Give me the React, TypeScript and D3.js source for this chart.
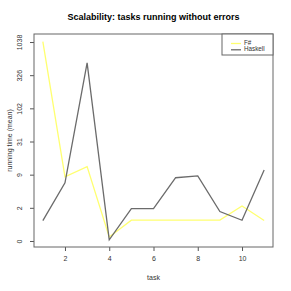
import React, { useEffect, useRef } from "react";
import * as d3 from "d3";

const tasks = [1, 2, 3, 4, 5, 6, 7, 8, 9, 10, 11];
const fsharp = [1050, 8.4, 12.4, 0.15, 1.07, 1.07, 1.07, 1.07, 1.07, 2.4, 1.05];
const haskell = [1.03, 6.6, 500, 0.04, 2.1, 2.1, 8.1, 8.7, 1.8, 1.06, 10.9];
const yTickLabels = [0, 2, 9, 31, 102, 326, 1038];
const xTicks = [2, 4, 6, 8, 10];

const width = 291;
const height = 291;
const margin = { top: 34, right: 18, bottom: 44, left: 34 };

export default function App() {
  const ref = useRef<SVGSVGElement>(null);

  useEffect(() => {
    const svg = d3.select(ref.current);
    svg.selectAll("*").remove();

    const tMax = Math.log1p(1038);
    const x = d3
      .scaleLinear()
      .domain([0.6, 11.4])
      .range([margin.left, width - margin.right]);
    const y = d3
      .scaleLinear()
      .domain([-0.21, tMax + 0.28])
      .range([height - margin.bottom, margin.top]);

    const font = "Liberation Sans, Arial, sans-serif";

    // title
    svg
      .append("text")
      .attr("x", (margin.left + width - margin.right) / 2)
      .attr("y", 20)
      .attr("text-anchor", "middle")
      .attr("font-family", font)
      .attr("font-weight", "bold")
      .attr("font-size", 9)
      .text("Scalability: tasks running without errors");

    // x axis
    const xAxis = svg
      .append("g")
      .attr("transform", `translate(0,${height - margin.bottom})`)
      .call(d3.axisBottom(x).tickValues(xTicks).tickSize(4).tickPadding(5));
    xAxis.select(".domain").remove();
    xAxis.selectAll("line").attr("stroke", "#555");
    xAxis.selectAll("text").attr("font-family", font).attr("font-size", 7).attr("fill", "#333");

    // y axis (evenly spaced in log1p space)
    const yAxis = svg
      .append("g")
      .attr("transform", `translate(${margin.left},0)`)
      .call(
        d3
          .axisLeft(y)
          .tickValues(yTickLabels.map((_, i) => (i * tMax) / (yTickLabels.length - 1)))
          .tickFormat((_, i) => String(yTickLabels[i]))
          .tickSize(4)
          .tickPadding(6)
      );
    yAxis.select(".domain").remove();
    yAxis.selectAll("line").attr("stroke", "#555");
    yAxis
      .selectAll("text")
      .attr("font-family", font)
      .attr("font-size", 7)
      .attr("fill", "#333")
      .attr("text-anchor", "middle")
      .attr("dy", 0)
      .attr("transform", function () {
        const xx = +d3.select(this).attr("x");
        return `translate(${xx - 2},0) rotate(-90)`;
      })
      .attr("x", 0);

    // box
    svg
      .append("rect")
      .attr("x", margin.left)
      .attr("y", margin.top)
      .attr("width", width - margin.left - margin.right)
      .attr("height", height - margin.top - margin.bottom)
      .attr("fill", "none")
      .attr("stroke", "#666")
      .attr("stroke-width", 1);

    // axis labels
    svg
      .append("text")
      .attr("x", (margin.left + width - margin.right) / 2)
      .attr("y", 280)
      .attr("text-anchor", "middle")
      .attr("font-family", font)
      .attr("font-size", 7)
      .attr("fill", "#333")
      .text("task");
    svg
      .append("text")
      .attr("transform", `translate(12,${(margin.top + height - margin.bottom) / 2}) rotate(-90)`)
      .attr("text-anchor", "middle")
      .attr("font-family", font)
      .attr("font-size", 7)
      .attr("fill", "#333")
      .text("running time (mean)");

    const line = d3
      .line<number>()
      .x((_, i) => x(tasks[i]))
      .y((d) => y(Math.log1p(d)));

    const series = [
      { name: "F#", values: fsharp, color: "#ffff70" },
      { name: "Haskell", values: haskell, color: "#6b6b6b" },
    ];

    series.forEach((s) => {
      svg
        .append("path")
        .datum(s.values)
        .attr("d", line)
        .attr("fill", "none")
        .attr("stroke", s.color)
        .attr("stroke-width", 1.3);
    });

    // legend
    const lx = 222;
    const lw = width - margin.right - lx;
    const lg = svg.append("g");
    lg.append("rect")
      .attr("x", lx)
      .attr("y", margin.top)
      .attr("width", lw)
      .attr("height", 21)
      .attr("fill", "white")
      .attr("stroke", "#666");
    series.forEach((s, i) => {
      const ly = margin.top + 9.5 + i * 6.3;
      lg.append("line")
        .attr("x1", lx + 9)
        .attr("x2", lx + 19)
        .attr("y1", ly)
        .attr("y2", ly)
        .attr("stroke", s.color)
        .attr("stroke-width", 1.3);
      lg.append("text")
        .attr("x", lx + 22)
        .attr("y", ly + 1.5)
        .attr("font-family", font)
        .attr("font-size", 6.3)
        .attr("fill", "#333")
        .text(s.name);
    });
  }, []);

  return (
    <svg
      ref={ref}
      width={width}
      height={height}
      style={{ position: "absolute", left: 0, top: 0, background: "white" }}
    />
  );
}
